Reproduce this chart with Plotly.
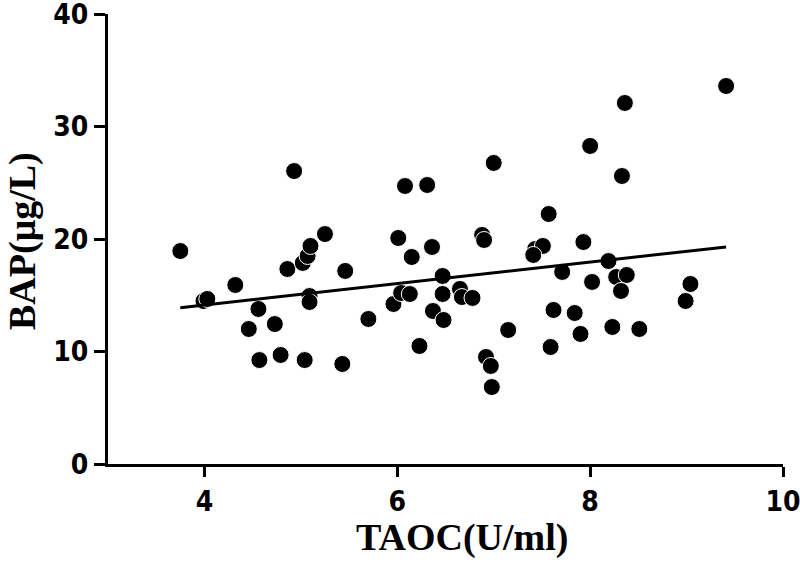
import plotly.graph_objects as go

taoc = [3.75, 3.99, 4.03, 4.32, 4.46, 4.56, 4.57, 4.73, 4.79, 4.86, 4.93, 5.02, 5.07, 5.10,
        5.09, 5.09, 5.04, 5.25, 5.46, 5.43, 5.70, 6.01, 6.15, 5.96, 6.04, 6.13, 6.08, 6.31,
        6.36, 6.23, 6.47, 6.47, 6.37, 6.48, 6.65, 6.67, 6.78, 7.00, 6.88, 6.90, 6.92, 6.97,
        6.98, 7.15, 7.43, 7.51, 7.41, 7.57, 7.62, 7.59, 7.71, 7.84, 7.90, 7.93, 8.00, 8.02,
        8.19, 8.23, 8.27, 8.38, 8.32, 8.33, 8.36, 8.51, 8.99, 9.04, 9.41]
bap = [18.93, 14.49, 14.67, 15.91, 12.00, 13.78, 9.24, 12.44, 9.69, 17.33, 26.04, 17.87, 18.49, 19.38,
       14.93, 14.40, 9.24, 20.44, 17.16, 8.89, 12.89, 20.09, 18.40, 14.22, 15.20, 15.11, 24.71, 24.80,
       19.29, 10.49, 16.71, 15.11, 13.60, 12.80, 15.56, 14.84, 14.76, 26.76, 20.36, 19.91, 9.51, 8.71,
       6.84, 11.91, 19.11, 19.38, 18.58, 22.22, 13.69, 10.40, 17.07, 13.42, 11.56, 19.73, 28.27, 16.18,
       18.04, 12.18, 16.62, 16.80, 15.38, 25.60, 32.09, 12.00, 14.49, 16.00, 33.60]

fit_intercept = 10.32
fit_slope = 0.954

x_ticks = [4, 6, 8, 10]
y_ticks = [0, 10, 20, 30, 40]

line_x = [min(taoc), max(taoc)]
line_y = [fit_intercept + fit_slope * v for v in line_x]

fig = go.Figure()
fig.add_trace(go.Scatter(x=taoc, y=bap, mode="markers",
                         marker=dict(size=17, color="black", line=dict(color="white", width=1)),
                         showlegend=False, hoverinfo="skip"))
fig.add_trace(go.Scatter(x=line_x, y=line_y, mode="lines",
                         line=dict(color="black", width=3), showlegend=False, hoverinfo="skip"))

tickfont = dict(family="DejaVu Sans Condensed, Liberation Sans Narrow, Liberation Sans",
                size=28, color="black", weight="bold")
titlefont = dict(family="Liberation Serif, Times New Roman", size=38, color="black", weight="bold")

fig.update_layout(
    width=800, height=567,
    margin=dict(l=108, r=17, t=14, b=103),
    plot_bgcolor="white", paper_bgcolor="white",
    xaxis=dict(range=[3, 10], tickvals=x_ticks, ticks="outside", ticklen=10, tickwidth=3,
               tickcolor="black", showline=True, linewidth=3, linecolor="black",
               showgrid=False, zeroline=False, automargin=False, ticklabeloverflow="allow",
               tickfont=tickfont),
    yaxis=dict(range=[0, 40], tickvals=y_ticks, ticks="outside", ticklen=11, tickwidth=3,
               tickcolor="black", showline=True, linewidth=3, linecolor="black",
               showgrid=False, zeroline=False, automargin=False, ticklabeloverflow="allow",
               tickfont=tickfont),
    annotations=[
        dict(text="TAOC(U/ml)", xref="paper", yref="paper", x=0.525, y=0,
             xanchor="center", yanchor="middle", yshift=-73, showarrow=False,
             font=titlefont),
        dict(text="BAP(μg/L)", xref="paper", yref="paper", x=0, y=0.5,
             xanchor="center", yanchor="middle", xshift=-86, yshift=-2, textangle=-90,
             showarrow=False, font=titlefont),
    ],
)

fig.write_html("out.html", config={"displayModeBar": False},
               post_script="document.body.style.margin='0px';")
